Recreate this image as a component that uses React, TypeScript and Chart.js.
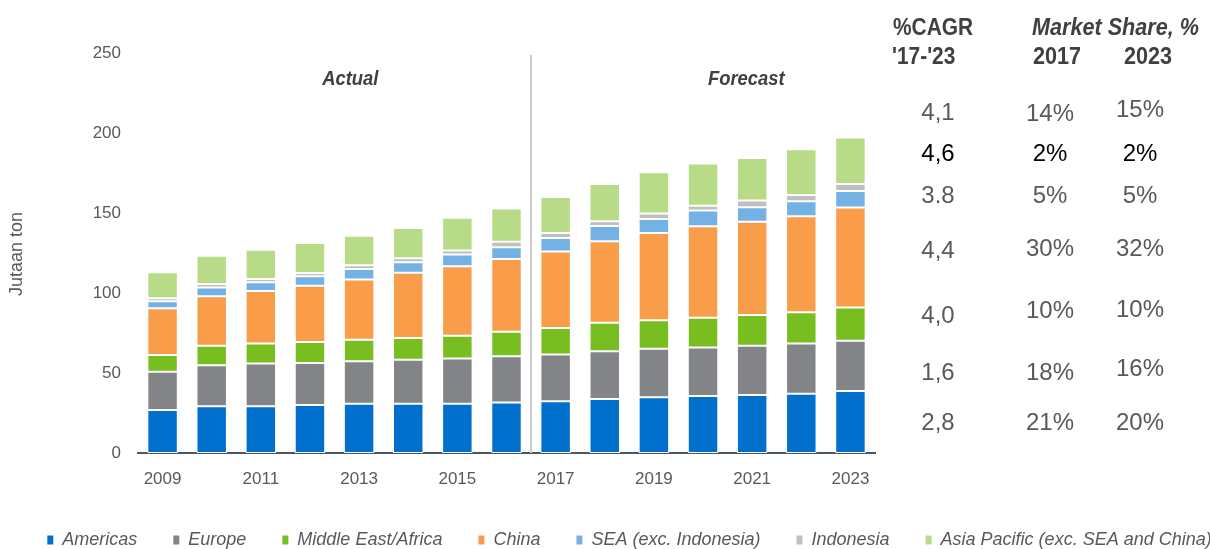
import React, { useEffect, useRef } from "react";
import { Chart, registerables } from "chart.js";

Chart.register(...registerables);

const years = ["2009", "2010", "2011", "2012", "2013", "2014", "2015", "2016", "2017", "2018", "2019", "2020", "2021", "2022", "2023"];
const americas = [26.9, 29.2, 29.2, 30.0, 30.8, 30.8, 30.8, 31.5, 32.3, 33.8, 34.8, 35.6, 36.3, 37.1, 38.8];
const europe = [23.9, 25.6, 26.8, 26.3, 26.5, 27.5, 28.2, 28.9, 29.2, 29.8, 30.4, 30.4, 30.8, 31.4, 31.3];
const mea = [10.4, 12.3, 12.5, 13.1, 13.5, 13.6, 14.3, 15.4, 16.6, 17.8, 17.7, 18.6, 19.2, 19.4, 20.8];
const china = [29.2, 30.8, 32.7, 35.2, 37.7, 40.8, 43.4, 45.5, 47.9, 51.0, 54.6, 57.1, 58.2, 60.0, 62.5];
const sea = [4.4, 5.6, 5.5, 5.8, 6.5, 6.5, 7.3, 7.3, 8.4, 9.4, 8.8, 9.8, 9.1, 9.4, 10.4];
const indonesia = [1.9, 2.1, 2.0, 2.1, 2.3, 2.5, 2.5, 3.4, 3.1, 3.1, 3.4, 3.1, 4.2, 4.0, 4.4];
const apac = [16.2, 17.7, 18.4, 18.8, 18.5, 18.9, 20.6, 20.8, 22.5, 23.3, 25.8, 26.4, 26.5, 28.6, 29.0];

const seriesNames = ["Americas", "Europe", "Middle East/Africa", "China", "SEA (exc. Indonesia)", "Indonesia", "Asia Pacific (exc. SEA and China)"];
const seriesColors = ["#0070CC", "#838487", "#78BE20", "#FA9D4B", "#74B1E4", "#BFBFBF", "#B8DB87"];

const cagrValues = ["4,1", "4,6", "3.8", "4,4", "4,0", "1,6", "2,8"];
const share2017 = ["14%", "2%", "5%", "30%", "10%", "18%", "21%"];
const share2023 = ["15%", "2%", "5%", "32%", "10%", "16%", "20%"];

const FONT = "'Liberation Sans', Arial, sans-serif";

// layout of the side table (baselines in px)
const cagrBase = [120, 161, 203, 258, 323, 380, 430];
const base2017 = [121, 161, 203, 256, 318, 380, 430];
const base2023 = [117, 161, 203, 256, 317, 376, 430];

const CANVAS_W = 1259;

function Txt(props: { x: number; base: number; size: number; text: string; bold?: boolean; italic?: boolean; color?: string; align?: "center" | "left"; sx?: number }) {
  const { x, base, size, text, bold, italic, color, align = "center", sx = 1 } = props;
  return (
    <div
      style={{
        position: "absolute",
        left: x,
        top: base - size * 0.846,
        transform: (align === "center" ? "translateX(-50%) " : "") + `scaleX(${sx})`,
        transformOrigin: align === "center" ? "center" : "left",
        fontFamily: FONT,
        fontSize: size,
        lineHeight: 1,
        fontWeight: bold ? "bold" : "normal",
        fontStyle: italic ? "italic" : "normal",
        color: color || "#595959",
        whiteSpace: "nowrap",
      }}
    >
      {text}
    </div>
  );
}

export default function App() {
  const ref = useRef<HTMLCanvasElement>(null);

  useEffect(() => {
    document.body.style.margin = "0";
    const canvas = ref.current;
    if (!canvas) return;

    const overlay = {
      id: "overlay",
      afterDatasetsDraw(chart: any) {
        const c = chart.ctx;
        const xs = chart.scales.x;
        const area = chart.chartArea;
        c.save();
        const dx = xs.getPixelForValue(7.5);
        c.strokeStyle = "#c9c9c9";
        c.lineWidth = 2;
        c.beginPath();
        c.moveTo(dx, area.top + 2);
        c.lineTo(dx, area.bottom);
        c.stroke();
        c.fillStyle = "#404040";
        c.font = `italic bold 20px ${FONT}`;
        c.textAlign = "center";
        c.textBaseline = "alphabetic";
        const labels: [string, number][] = [["Actual", 3.82], ["Forecast", 11.88]];
        labels.forEach(([t, v]) => {
          c.save();
          c.translate(xs.getPixelForValue(v), 85);
          c.scale(0.92, 1);
          c.fillText(t, 0, 0);
          c.restore();
        });
        c.translate(17, 254);
        c.rotate(-Math.PI / 2);
        c.font = `18px ${FONT}`;
        c.fillStyle = "#595959";
        c.textBaseline = "middle";
        c.fillText("Jutaan ton", 0, 0);
        c.restore();
      },
    };

    const data = [americas, europe, mea, china, sea, indonesia, apac];
    const chart = new Chart(canvas, {
      type: "bar",
      data: {
        labels: years,
        datasets: data.map((d, i) => ({
          label: seriesNames[i],
          data: d,
          backgroundColor: seriesColors[i],
          borderColor: "#ffffff",
          borderWidth: 1,
          borderSkipped: false,
          categoryPercentage: 1,
          barPercentage: 0.62,
        })),
      },
      options: {
        responsive: false,
        animation: false,
        layout: { padding: { top: 53, left: 0, right: 0, bottom: -10 } },
        plugins: {
          tooltip: { enabled: false },
          legend: {
            position: "bottom",
            labels: {
              boxWidth: 6,
              boxHeight: 9,
              padding: 36,
              color: "#595959",
              font: { family: FONT, size: 18, style: "italic" },
              generateLabels: (ch: any) =>
                ch.data.datasets.map((ds: any, i: number) => ({
                  text: ds.label,
                  fillStyle: ds.backgroundColor,
                  strokeStyle: ds.backgroundColor,
                  lineWidth: 0,
                  datasetIndex: i,
                  hidden: false,
                  fontColor: "#595959",
                })),
            },
          },
        },
        scales: {
          x: {
            stacked: true,
            offset: true,
            grid: { display: false, drawTicks: false },
            border: { display: true, color: "#475766", width: 2 },
            ticks: {
              autoSkip: false,
              maxRotation: 0,
              padding: 16,
              color: "#595959",
              font: { family: FONT, size: 17 },
              callback: (_v: any, idx: number) => (idx % 2 === 0 ? years[idx] : ""),
            },
            afterFit: (s: any) => {
              s.height = 42;
            },
          },
          y: {
            stacked: true,
            min: 0,
            max: 250,
            grid: { display: false, drawTicks: false },
            border: { display: false },
            ticks: {
              stepSize: 50,
              padding: 17,
              color: "#595959",
              font: { family: FONT, size: 17 },
            },
            afterFit: (s: any) => {
              s.width = 138;
            },
          },
          yR: {
            type: "linear",
            position: "right",
            min: 0,
            max: 1,
            grid: { display: false, drawTicks: false },
            border: { display: false },
            ticks: { display: false },
            afterFit: (s: any) => {
              s.width = CANVAS_W - 875;
            },
          },
        },
      },
      plugins: [overlay],
    } as any);

    return () => chart.destroy();
  }, []);

  return (
    <div style={{ position: "relative", width: 1210, height: 549, overflow: "hidden", background: "#fff" }}>
      <canvas ref={ref} width={CANVAS_W} height={549} style={{ position: "absolute", left: 0, top: 0 }} />
      <Txt x={893} base={35} size={24} text="%CAGR" bold color="#404040" align="left" sx={0.87} />
      <Txt x={892} base={64} size={24} text="'17-'23" bold color="#404040" align="left" sx={0.87} />
      <Txt x={1032} base={35} size={24} text="Market Share, %" bold italic color="#404040" align="left" sx={0.9} />
      <Txt x={1057} base={64} size={24} text="2017" bold color="#404040" sx={0.9} />
      <Txt x={1148} base={64} size={24} text="2023" bold color="#404040" sx={0.9} />
      {cagrValues.map((t, i) => (
        <Txt key={"c" + i} x={938} base={cagrBase[i]} size={24} text={t} color={i === 1 ? "#000" : "#595959"} />
      ))}
      {share2017.map((t, i) => (
        <Txt key={"a" + i} x={1050} base={base2017[i]} size={24} text={t} color={i === 1 ? "#000" : "#595959"} />
      ))}
      {share2023.map((t, i) => (
        <Txt key={"b" + i} x={1140} base={base2023[i]} size={24} text={t} color={i === 1 ? "#000" : "#595959"} />
      ))}
    </div>
  );
}
